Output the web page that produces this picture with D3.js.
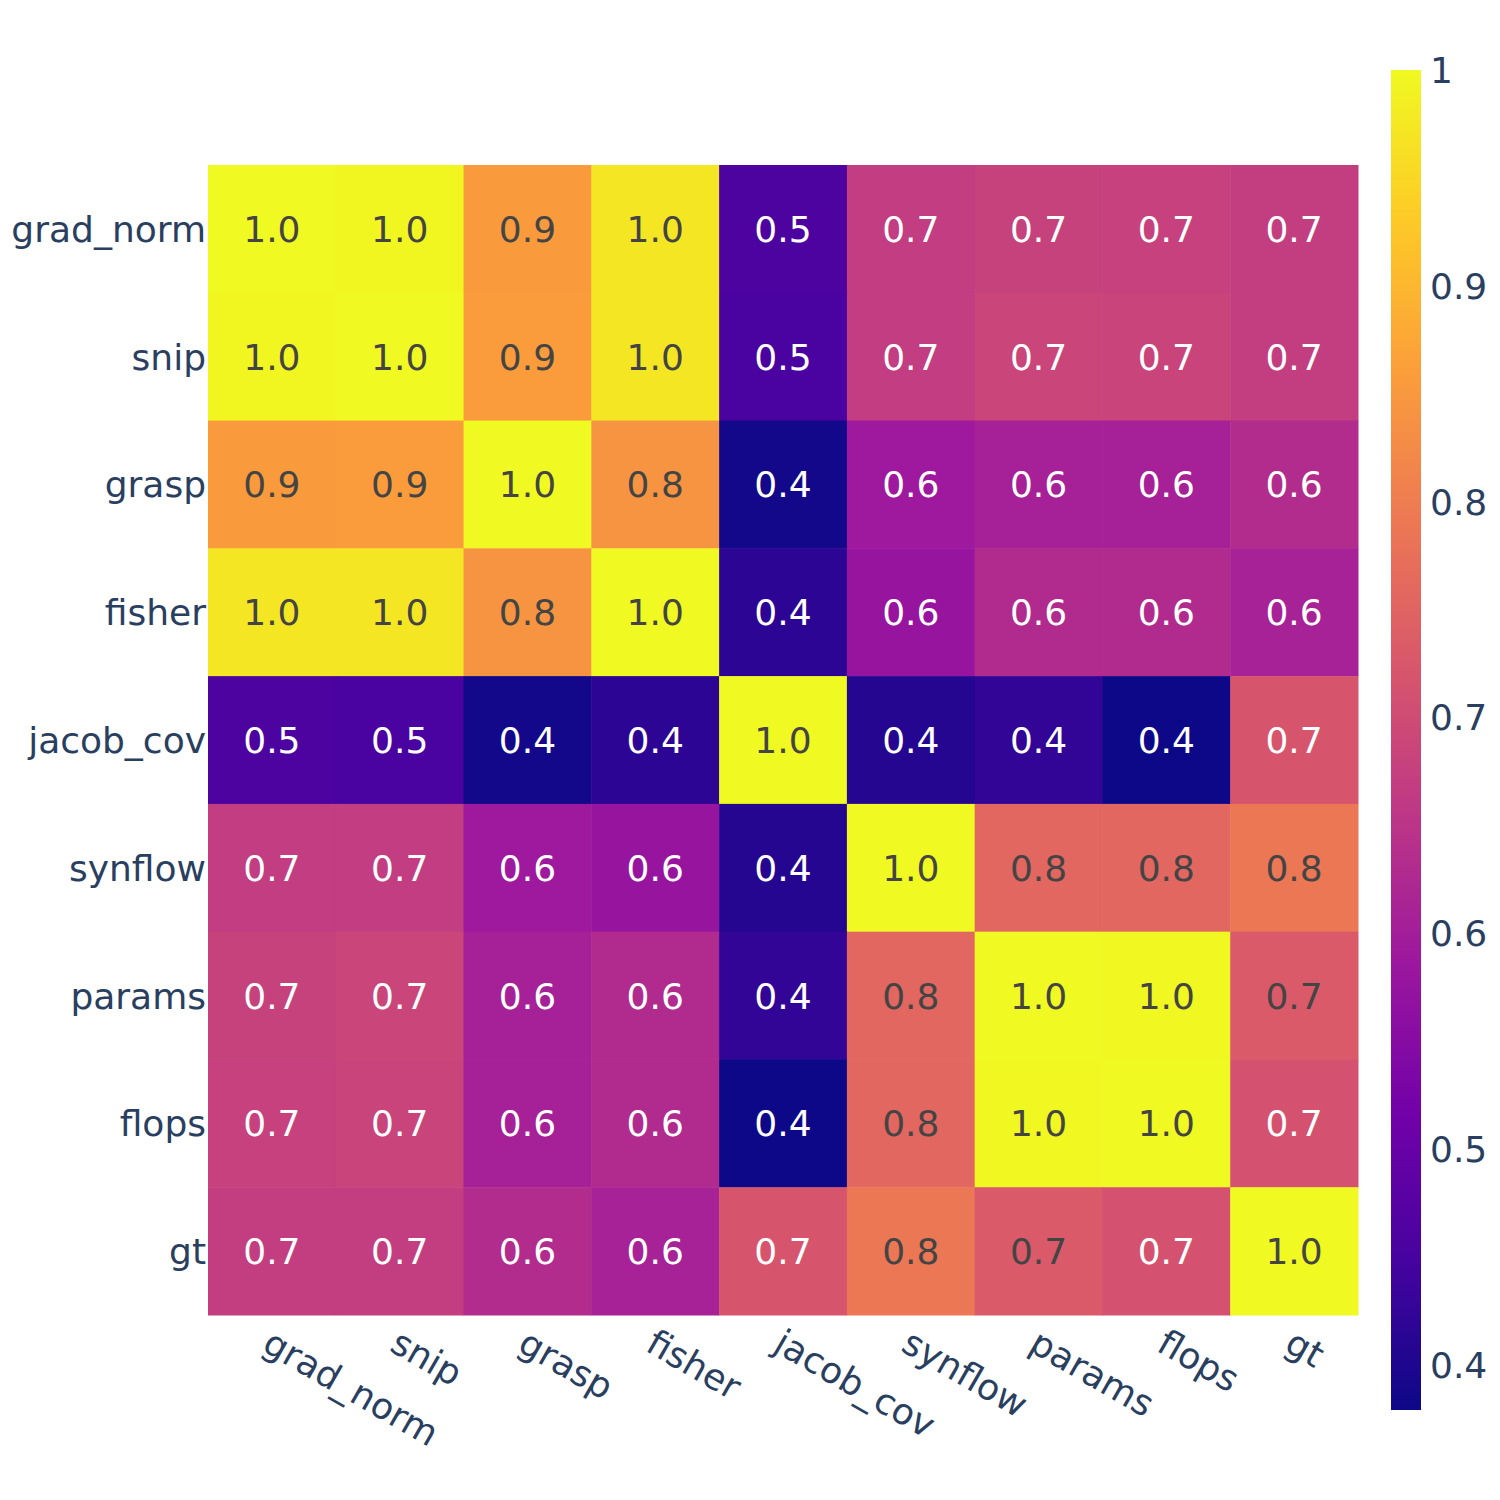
<!DOCTYPE html>
<html>
<head>
<meta charset="utf-8">
<script src="https://cdn.jsdelivr.net/npm/d3@7"></script>
<style>
  html, body { margin: 0; padding: 0; background: #fff; }
  svg { display: block; font-family: "DejaVu Sans", sans-serif; }
</style>
</head>
<body>
<svg id="chart" width="1500" height="1500"></svg>
<script>
// ---- data ----
const categories = ["grad_norm", "snip", "grasp", "fisher", "jacob_cov", "synflow", "params", "flops", "gt"];
const rowGradNorm = [1.000, 0.996, 0.854, 0.972, 0.457, 0.668, 0.678, 0.677, 0.670];
const rowSnip     = [0.996, 1.000, 0.857, 0.972, 0.455, 0.668, 0.685, 0.684, 0.670];
const rowGrasp    = [0.854, 0.857, 1.000, 0.842, 0.385, 0.590, 0.607, 0.606, 0.632];
const rowFisher   = [0.972, 0.972, 0.842, 1.000, 0.418, 0.578, 0.630, 0.630, 0.609];
const rowJacobCov = [0.457, 0.455, 0.385, 0.418, 1.000, 0.408, 0.424, 0.379, 0.719];
const rowSynflow  = [0.668, 0.668, 0.590, 0.578, 0.408, 1.000, 0.757, 0.757, 0.789];
const rowParams   = [0.678, 0.685, 0.607, 0.630, 0.424, 0.757, 1.000, 0.997, 0.731];
const rowFlops    = [0.677, 0.684, 0.606, 0.630, 0.379, 0.757, 0.997, 1.000, 0.713];
const rowGt       = [0.670, 0.670, 0.632, 0.609, 0.719, 0.789, 0.731, 0.713, 1.000];
const colorbarTicks = [0.4, 0.5, 0.6, 0.7, 0.8, 0.9, 1.0];
const plasmaStops = ["#0d0887", "#46039f", "#7201a8", "#9c179e", "#bd3786", "#d8576b", "#ed7953", "#fb9f3a", "#fdca26", "#f0f921"];

const matrix = [rowGradNorm, rowSnip, rowGrasp, rowFisher, rowJacobCov, rowSynflow, rowParams, rowFlops, rowGt];

// ---- layout ----
const plot = { left: 208, right: 1358, top: 165, bottom: 1315 };
const cbar = { x: 1391, width: 30, top: 70, bottom: 1410 };
const fontSize = 36;
const axisColor = "#2a3f5f";

const svg = d3.select("#chart");

const cells = [];
matrix.forEach((row, i) => row.forEach((v, j) => cells.push({ r: categories[i], c: categories[j], v })));

const [zmin, zmax] = d3.extent(cells, d => d.v);

const x = d3.scaleBand().domain(categories).range([plot.left, plot.right]).padding(0);
const y = d3.scaleBand().domain(categories).range([plot.top, plot.bottom]).padding(0);

const stopDomain = plasmaStops.map((_, k) => zmin + (zmax - zmin) * k / (plasmaStops.length - 1));
const color = d3.scaleLinear().domain(stopDomain).range(plasmaStops).interpolate(d3.interpolateRgb).clamp(true);

function textColor(c) {
  const rgb = d3.rgb(c);
  const brightness = (rgb.r * 299 + rgb.g * 587 + rgb.b * 114) / 1000;
  return brightness >= 128 ? "#444444" : "#ffffff";
}

// cells
svg.append("g").selectAll("rect").data(cells).join("rect")
  .attr("x", d => x(d.c))
  .attr("y", d => y(d.r))
  .attr("width", x.bandwidth() + 0.5)
  .attr("height", y.bandwidth() + 0.5)
  .attr("fill", d => color(d.v));

// cell text
const fmt = d3.format(".1f");
svg.append("g").selectAll("text").data(cells).join("text")
  .attr("x", d => x(d.c) + x.bandwidth() / 2)
  .attr("y", d => y(d.r) + y.bandwidth() / 2)
  .attr("dy", "0.36em")
  .attr("text-anchor", "middle")
  .attr("font-size", fontSize)
  .attr("fill", d => textColor(color(d.v)))
  .text(d => fmt(d.v));

// y axis labels
svg.append("g").selectAll("text").data(categories).join("text")
  .attr("x", plot.left - 2)
  .attr("y", d => y(d) + y.bandwidth() / 2)
  .attr("dy", "0.36em")
  .attr("text-anchor", "end")
  .attr("font-size", fontSize)
  .attr("fill", axisColor)
  .text(d => d);

// x axis labels (rotated 30deg)
svg.append("g").selectAll("text").data(categories).join("text")
  .attr("transform", d => `translate(${x(d) + x.bandwidth() / 2 + 2},${plot.bottom + 12}) rotate(30)`)
  .attr("dy", "0.74em")
  .attr("text-anchor", "start")
  .attr("font-size", fontSize)
  .attr("fill", axisColor)
  .text(d => d);

// colorbar
const defs = svg.append("defs");
const grad = defs.append("linearGradient")
  .attr("id", "cbgrad")
  .attr("x1", 0).attr("y1", 1).attr("x2", 0).attr("y2", 0);
grad.selectAll("stop").data(plasmaStops).join("stop")
  .attr("offset", (d, k) => k / (plasmaStops.length - 1))
  .attr("stop-color", d => d);

const cy = d3.scaleLinear().domain([zmin, zmax]).range([cbar.bottom, cbar.top]);
svg.append("rect")
  .attr("x", cbar.x).attr("y", cbar.top)
  .attr("width", cbar.width).attr("height", cbar.bottom - cbar.top)
  .attr("fill", "url(#cbgrad)");

const tickFmt = d3.format("~g");
svg.append("g").selectAll("text").data(colorbarTicks).join("text")
  .attr("x", cbar.x + cbar.width + 9)
  .attr("y", d => cy(d))
  .attr("dy", "0.36em")
  .attr("text-anchor", "start")
  .attr("font-size", fontSize)
  .attr("fill", axisColor)
  .text(d => tickFmt(d));
</script>
</body>
</html>
